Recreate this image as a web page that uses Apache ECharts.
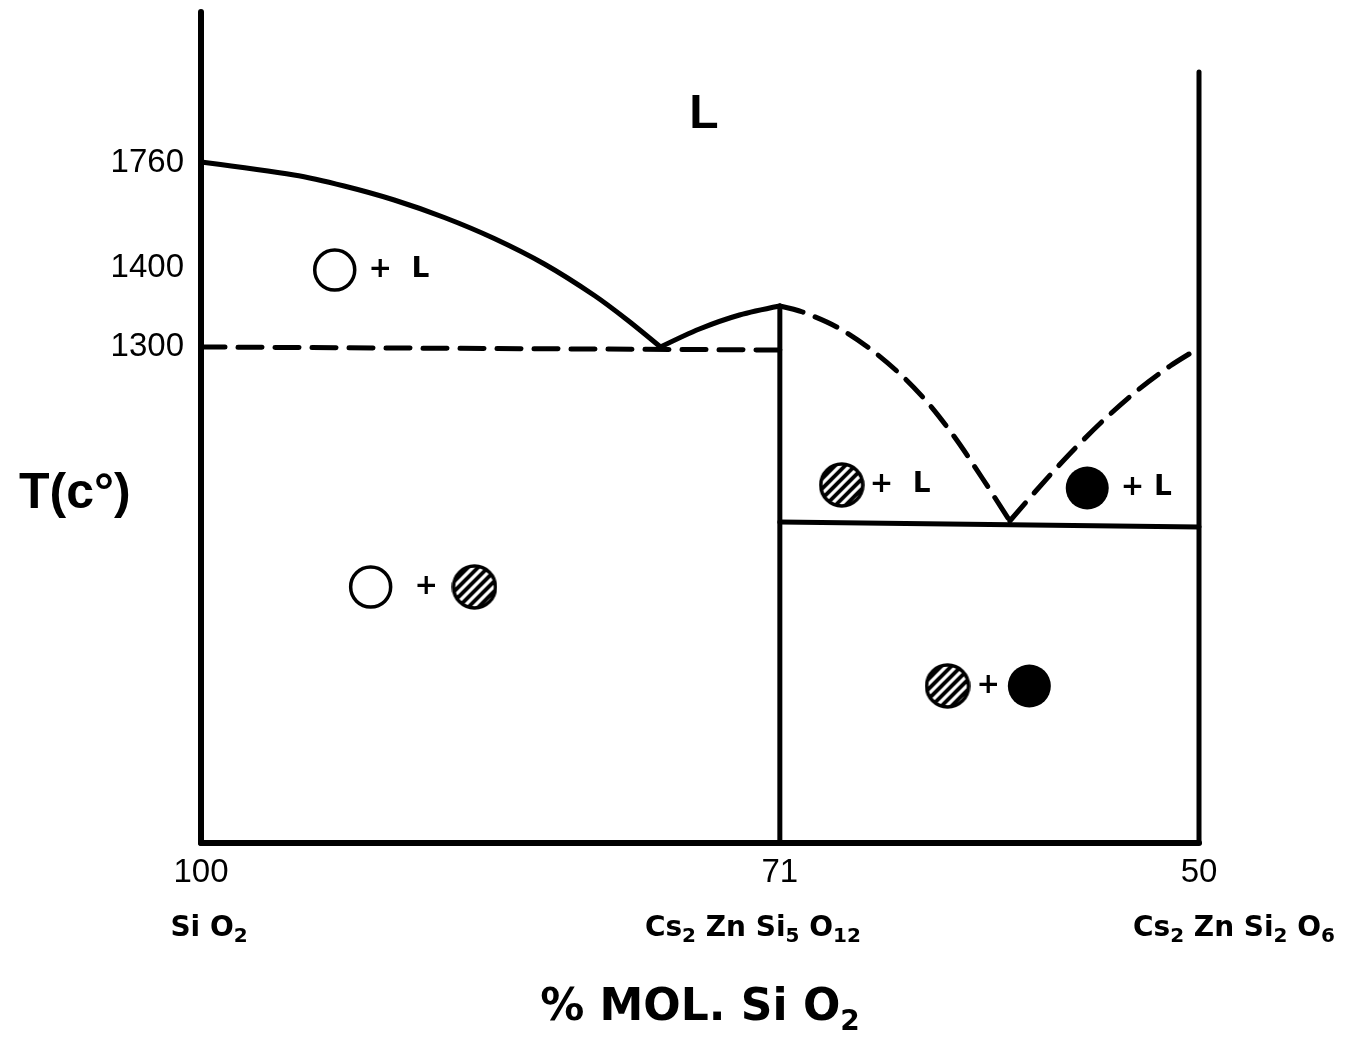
<!DOCTYPE html>
<html>
<head>
<meta charset="utf-8">
<script src="https://cdn.jsdelivr.net/npm/echarts@6/dist/echarts.min.js"></script>
<style>
html, body { margin: 0; background: #fff; }
#chart { width: 1359px; height: 1042px; }
</style>
</head>
<body>
<div id="chart"></div>
<script>
// composition axis (% mol SiO2) and the compounds under it
const xTicks = [100, 71, 50];
const compounds = ['Si O2', 'Cs2 Zn Si5 O12', 'Cs2 Zn Si2 O6'];
// temperature labels and their height on the (schematic, not to scale) vertical axis
const tempLabels = ['1300', '1400', '1760'];
const tempLevels = [496, 575, 680];

// phase boundaries: [mol % SiO2, height]
const liquidusSiO2 = [[100, 681], [95.34, 668], [92.83, 657], [90.32, 643], [87.81, 625.5], [85.31, 604.5], [82.8, 579], [80.29, 547.5], [78.64, 523], [76.98, 496]];
const liquidusA = [[76.98, 496], [75.03, 514], [73.02, 528], [71, 537]];
const liquidusB = [[71, 537], [69.86, 531], [68.15, 516], [66.5, 494.5], [64.84, 466.5], [63.49, 438], [62.14, 403], [60.83, 364], [59.48, 322]];
const liquidusC = [[59.48, 322], [58.13, 353], [56.47, 389.3], [54.81, 422.3], [53.11, 452.2], [51.45, 477], [50, 495]];
const solidus1 = [[100, 496], [71, 493]];
const solidus2 = [[71, 321], [50, 316]];
const line71 = [[71, 0], [71, 537]];
const line50 = [[50, 0], [50, 771]];

// phase symbols in each field
const openCircles = [[93.3, 573], [91.5, 256]];
const openText = ['+  L', '+'];
const hatchedCircles = [[86.3, 256], [67.9, 358], [62.6, 157]];
const hatchedText = ['', '+  L', '+'];
const filledCircles = [[55.6, 355], [58.5, 157]];
const filledText = ['+ L', ''];
const liquidField = [[74.8, 728]];

const black = '#000';
const numFont = 'Liberation Sans';
const txtFont = 'DejaVu Sans';

// hatched circle symbol (Cs2ZnSi5O12), drawn once on a canvas
function hatchedSymbol(size) {
  const cv = document.createElement('canvas');
  cv.width = size; cv.height = size;
  const c = cv.getContext('2d');
  const r = size / 2 - 2;
  c.save();
  c.beginPath();
  c.arc(size / 2, size / 2, r, 0, Math.PI * 2);
  c.fillStyle = '#fff';
  c.fill();
  c.clip();
  c.strokeStyle = '#000';
  c.lineWidth = 3.8;
  for (let k = -size; k < size * 2; k += 10) {
    c.beginPath();
    c.moveTo(k, size);
    c.lineTo(k + size, 0);
    c.stroke();
  }
  c.restore();
  c.beginPath();
  c.arc(size / 2, size / 2, r, 0, Math.PI * 2);
  c.lineWidth = 3.5;
  c.strokeStyle = '#000';
  c.stroke();
  return 'image://' + cv.toDataURL();
}

function curve(data, dashed, smooth) {
  return {
    type: 'line', data: data, showSymbol: false, smooth: smooth ? 0.3 : false,
    silent: true, z: 3,
    lineStyle: { color: black, width: 5, type: dashed ? [24, 13] : 'solid', cap: 'round' }
  };
}

function chem(name, gapBefore, gapAfter) {
  const body = '{m|' + name.replace(/(\d+)/g, '}{s|$1}{m|') + '}';
  return (gapBefore ? '{g' + gapBefore + '|}' : '') + body + (gapAfter ? '{g' + gapAfter + '|}' : '');
}

function symbols(points, texts, dist) {
  return points.map(function (p, i) {
    return {
      value: p,
      label: { show: !!texts[i], formatter: texts[i], distance: dist[i] }
    };
  });
}

const labelStyle = { position: 'right', color: black, fontFamily: txtFont, fontWeight: 'bold', fontSize: 28 };

const option = {
  backgroundColor: '#fff',
  animation: false,
  title: {
    text: 'T(c°)', left: 14, top: 464,
    textStyle: { fontFamily: numFont, fontWeight: 'bold', fontSize: 50, color: black }
  },
  grid: { left: 201, right: 160, top: 12, bottom: 199, outerBoundsMode: 'none' },
  xAxis: [{
    type: 'value', min: 50, max: 100, inverse: true,
    name: '{m|% MOL. Si O}{s|2}', nameLocation: 'middle', nameGap: 150,
    nameTextStyle: {
      rich: {
        m: { fontFamily: txtFont, fontWeight: 'bold', fontSize: 44, color: black, lineHeight: 44, padding: [0, 0, 12, 0] },
        s: { fontFamily: txtFont, fontWeight: 'bold', fontSize: 28, color: black, lineHeight: 28, verticalAlign: 'bottom' }
      }
    },
    axisLine: { show: true, lineStyle: { color: black, width: 6 } },
    axisTick: { show: false },
    splitLine: { show: false },
    axisLabel: { customValues: xTicks, margin: 13, color: black, fontFamily: numFont, fontSize: 33 }
  }, {
    type: 'value', min: 50, max: 100, inverse: true, position: 'bottom',
    axisLine: { show: false }, axisTick: { show: false }, splitLine: { show: false },
    axisLabel: {
      customValues: xTicks, margin: 76,
      formatter: function (v) {
        const i = xTicks.indexOf(v);
        if (i === 0) return chem(compounds[0], 16, 0);
        if (i === 1) return chem(compounds[1], 0, 54);
        return chem(compounds[2], 70, 0);
      },
      rich: {
        m: { fontFamily: txtFont, fontWeight: 'bold', fontSize: 28, color: black, lineHeight: 28, padding: [0, 0, 9, 0] },
        s: { fontFamily: txtFont, fontWeight: 'bold', fontSize: 20, color: black, lineHeight: 20, verticalAlign: 'bottom' },
        g16: { width: 16 }, g54: { width: 54 }, g70: { width: 70 }
      }
    }
  }],
  yAxis: {
    type: 'value', min: 0, max: 831,
    axisLine: { show: true, lineStyle: { color: black, width: 6 } },
    axisTick: { show: false },
    splitLine: { show: false },
    axisLabel: {
      customValues: tempLevels, margin: 17, color: black, fontFamily: numFont, fontSize: 33,
      formatter: function (v) { return tempLabels[tempLevels.indexOf(v)]; }
    }
  },
  series: [
    curve(liquidusSiO2, false, true),
    curve(liquidusA, false, true),
    curve(liquidusB, true, true),
    curve(liquidusC, true, true),
    curve(solidus1, true, false),
    curve(solidus2, false, false),
    curve(line71, false, false),
    curve(line50, false, false),
    {
      type: 'scatter', symbol: 'circle', symbolSize: 40, z: 5,
      data: symbols(openCircles, openText, [12, 22]),
      itemStyle: { color: '#fff', borderColor: black, borderWidth: 3.5, opacity: 1 },
      label: labelStyle
    },
    {
      type: 'scatter', symbol: hatchedSymbol(46), symbolSize: 46, z: 5,
      data: symbols(hatchedCircles, hatchedText, [5, 5, 6]),
      itemStyle: { opacity: 1 },
      label: labelStyle
    },
    {
      type: 'scatter', symbol: 'circle', symbolSize: 43, z: 5,
      data: symbols(filledCircles, filledText, [12, 0]),
      itemStyle: { color: black, opacity: 1 },
      label: labelStyle
    },
    {
      type: 'scatter', symbolSize: 0, z: 5, data: liquidField,
      itemStyle: { opacity: 1 },
      label: { show: true, position: 'inside', formatter: 'L', color: black, fontFamily: numFont, fontWeight: 'bold', fontSize: 48 }
    }
  ]
};

const chart = echarts.init(document.getElementById('chart'));
chart.setOption(option);
</script>
</body>
</html>
